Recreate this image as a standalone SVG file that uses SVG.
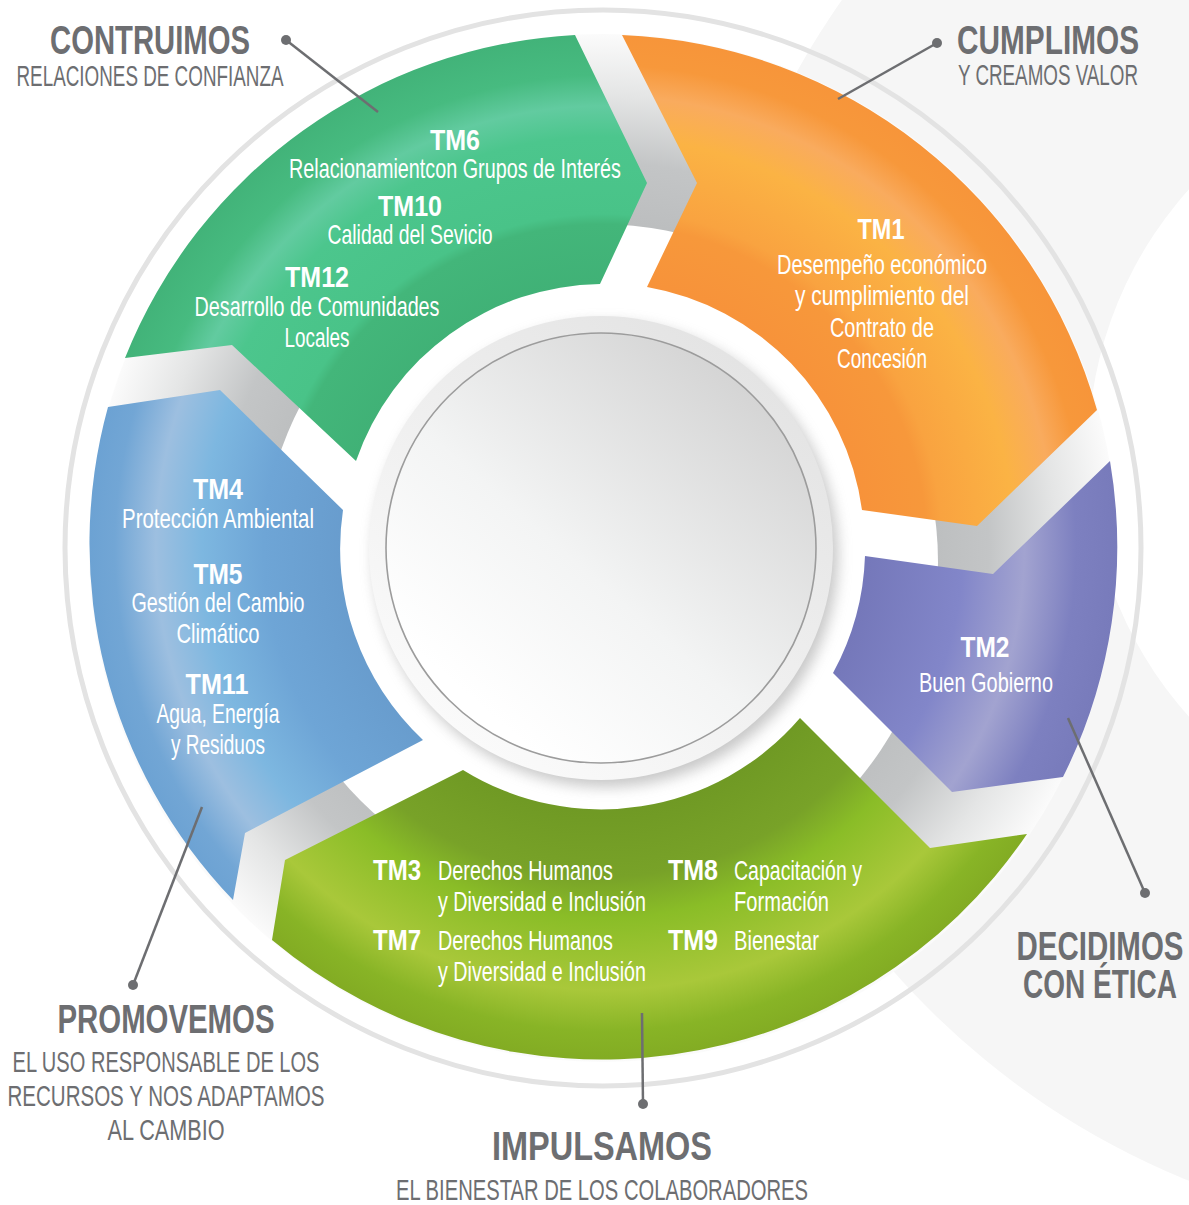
<svg xmlns="http://www.w3.org/2000/svg" width="1189" height="1205" viewBox="0 0 1189 1205">
<style>
text{font-family:"Liberation Sans",Arial,sans-serif}
.hd{font-weight:bold;fill:#6d6e71;font-size:40px;text-anchor:middle}
.sub{fill:#6d6e71;font-size:29px;text-anchor:middle}
.tm{font-weight:bold;fill:#fff;font-size:29px}
.tx{fill:#fff;font-size:28px}
.c{text-anchor:middle}
.lead{stroke:#6d6e71;stroke-width:2.5;fill:none}
.dot{fill:#6d6e71}
</style>
<defs>
<radialGradient id="gUnder" gradientUnits="userSpaceOnUse" cx="603" cy="548" r="514">
<stop offset="0.6" stop-color="#babcbd"/>
<stop offset="0.75" stop-color="#c3c5c6"/>
<stop offset="0.88" stop-color="#e4e5e5"/>
<stop offset="1" stop-color="#fbfbfb"/>
</radialGradient>
<radialGradient id="gGreen" gradientUnits="userSpaceOnUse" cx="603" cy="548" r="514">
<stop offset="0.5" stop-color="#40b176"/>
<stop offset="0.63" stop-color="#43b67a"/>
<stop offset="0.65" stop-color="#49c388"/>
<stop offset="0.8" stop-color="#4cc68d"/>
<stop offset="0.86" stop-color="#62cba0"/>
<stop offset="0.92" stop-color="#47bb80"/>
<stop offset="1" stop-color="#42b379"/>
</radialGradient>
<radialGradient id="gOrange" gradientUnits="userSpaceOnUse" cx="603" cy="548" r="514">
<stop offset="0.5" stop-color="#f7923a"/>
<stop offset="0.63" stop-color="#f7983b"/>
<stop offset="0.66" stop-color="#f9a340"/>
<stop offset="0.8" stop-color="#fbb344"/>
<stop offset="0.88" stop-color="#f9ab5e"/>
<stop offset="0.94" stop-color="#f7983b"/>
<stop offset="1" stop-color="#f7953a"/>
</radialGradient>
<radialGradient id="gPurple" gradientUnits="userSpaceOnUse" cx="603" cy="548" r="514">
<stop offset="0.5" stop-color="#7477b9"/>
<stop offset="0.7" stop-color="#8286c9"/>
<stop offset="0.82" stop-color="#a2a3d0"/>
<stop offset="0.92" stop-color="#7d80c0"/>
<stop offset="1" stop-color="#787bbb"/>
</radialGradient>
<radialGradient id="gLime" gradientUnits="userSpaceOnUse" cx="603" cy="548" r="514">
<stop offset="0.5" stop-color="#6f9924"/>
<stop offset="0.64" stop-color="#78a228"/>
<stop offset="0.72" stop-color="#8abd27"/>
<stop offset="0.86" stop-color="#a9c83a"/>
<stop offset="0.94" stop-color="#88b426"/>
<stop offset="1" stop-color="#82ab23"/>
</radialGradient>
<radialGradient id="gBlue" gradientUnits="userSpaceOnUse" cx="603" cy="548" r="514">
<stop offset="0.5" stop-color="#689ccd"/>
<stop offset="0.66" stop-color="#6ea5d6"/>
<stop offset="0.78" stop-color="#7db7e0"/>
<stop offset="0.87" stop-color="#9dbfe0"/>
<stop offset="0.95" stop-color="#72a6d5"/>
<stop offset="1" stop-color="#6ca2d3"/>
</radialGradient>
<linearGradient id="gRim" x1="0.8" y1="0.1" x2="0.2" y2="0.9">
<stop offset="0" stop-color="#e4e4e4"/>
<stop offset="1" stop-color="#fafafa"/>
</linearGradient>
<linearGradient id="gFace" x1="0.85" y1="0.1" x2="0.2" y2="0.85">
<stop offset="0" stop-color="#d3d3d3"/>
<stop offset="0.6" stop-color="#f3f4f4"/>
<stop offset="1" stop-color="#ffffff"/>
</linearGradient>
<filter id="blur" x="-20%" y="-20%" width="140%" height="140%"><feGaussianBlur stdDeviation="7"/></filter>
</defs>

<rect width="1189" height="1205" fill="#ffffff"/>
<g id="background">
<path d="M1483,453 m-785,0 a785,785 0 1,0 1570,0 a785,785 0 1,0 -1570,0 Z M1483,453 m-395,0 a395,395 0 1,1 790,0 a395,395 0 1,1 -790,0 Z" fill="#f6f6f6" fill-rule="evenodd"/>
<circle cx="603" cy="548" r="538" fill="none" stroke="#e3e3e3" stroke-width="5"/>
<circle cx="603" cy="548" r="514" fill="url(#gUnder)"/>
<circle cx="600" cy="562" r="338" fill="#ffffff"/>
</g>

<g id="node-green">
<path d="M125,358 A514,514 0 0,1 575,35 L647,183 L600,284 A262,262 0 0,0 356,461 L232,345 Z" fill="url(#gGreen)"/>
<text class="tm c" x="455" y="150" textLength="50" lengthAdjust="spacingAndGlyphs">TM6</text>
<text class="tx c" x="455" y="178" textLength="332" lengthAdjust="spacingAndGlyphs">Relacionamientcon Grupos de Interés</text>
<text class="tm c" x="410" y="216" textLength="64" lengthAdjust="spacingAndGlyphs">TM10</text>
<text class="tx c" x="410" y="244" textLength="165" lengthAdjust="spacingAndGlyphs">Calidad del Sevicio</text>
<text class="tm c" x="317" y="287" textLength="64" lengthAdjust="spacingAndGlyphs">TM12</text>
<text class="tx c" x="317" y="316" textLength="245" lengthAdjust="spacingAndGlyphs">Desarrollo de Comunidades</text>
<text class="tx c" x="317" y="347" textLength="65" lengthAdjust="spacingAndGlyphs">Locales</text>
</g>

<g id="node-orange">
<path d="M622,35 A514,514 0 0,1 1097,410 L977,526 L862,510 A262,262 0 0,0 647,287 L697,183 Z" fill="url(#gOrange)"/>
<text class="tm c" x="881" y="239" textLength="47" lengthAdjust="spacingAndGlyphs">TM1</text>
<text class="tx c" x="882" y="274" textLength="210" lengthAdjust="spacingAndGlyphs">Desempeño económico</text>
<text class="tx c" x="882" y="305" textLength="174" lengthAdjust="spacingAndGlyphs">y cumplimiento del</text>
<text class="tx c" x="882" y="337" textLength="104" lengthAdjust="spacingAndGlyphs">Contrato de</text>
<text class="tx c" x="882" y="368" textLength="90" lengthAdjust="spacingAndGlyphs">Concesión</text>
</g>

<g id="node-purple">
<path d="M1110,461 A514,514 0 0,1 1063,777 L952,792 L833,673 A262,262 0 0,0 865,556 L993,574 Z" fill="url(#gPurple)"/>
<text class="tm c" x="985" y="657" textLength="49" lengthAdjust="spacingAndGlyphs">TM2</text>
<text class="tx c" x="986" y="692" textLength="134" lengthAdjust="spacingAndGlyphs">Buen Gobierno</text>
</g>

<g id="node-lime">
<path d="M1027,834 A514,514 0 0,1 272,940 L285,860 L463,770 A262,262 0 0,0 800,718 L930,848 Z" fill="url(#gLime)"/>
<text class="tm" x="373" y="880" textLength="48" lengthAdjust="spacingAndGlyphs">TM3</text>
<text class="tx" x="438" y="880" textLength="175" lengthAdjust="spacingAndGlyphs">Derechos Humanos</text>
<text class="tx" x="438" y="911" textLength="208" lengthAdjust="spacingAndGlyphs">y Diversidad e Inclusión</text>
<text class="tm" x="373" y="950" textLength="48" lengthAdjust="spacingAndGlyphs">TM7</text>
<text class="tx" x="438" y="950" textLength="175" lengthAdjust="spacingAndGlyphs">Derechos Humanos</text>
<text class="tx" x="438" y="981" textLength="208" lengthAdjust="spacingAndGlyphs">y Diversidad e Inclusión</text>
<text class="tm" x="668" y="880" textLength="50" lengthAdjust="spacingAndGlyphs">TM8</text>
<text class="tx" x="734" y="880" textLength="128" lengthAdjust="spacingAndGlyphs">Capacitación y</text>
<text class="tx" x="734" y="911" textLength="95" lengthAdjust="spacingAndGlyphs">Formación</text>
<text class="tm" x="668" y="950" textLength="50" lengthAdjust="spacingAndGlyphs">TM9</text>
<text class="tx" x="734" y="950" textLength="85" lengthAdjust="spacingAndGlyphs">Bienestar</text>
</g>

<g id="node-blue">
<path d="M233,900 A514,514 0 0,1 108,407 L220,390 L343,510 A262,262 0 0,0 423,740 L245,833 Z" fill="url(#gBlue)"/>
<text class="tm c" x="218" y="499" textLength="50" lengthAdjust="spacingAndGlyphs">TM4</text>
<text class="tx c" x="218" y="528" textLength="192" lengthAdjust="spacingAndGlyphs">Protección Ambiental</text>
<text class="tm c" x="218" y="584" textLength="49" lengthAdjust="spacingAndGlyphs">TM5</text>
<text class="tx c" x="218" y="612" textLength="173" lengthAdjust="spacingAndGlyphs">Gestión del Cambio</text>
<text class="tx c" x="218" y="643" textLength="83" lengthAdjust="spacingAndGlyphs">Climático</text>
<text class="tm c" x="217" y="694" textLength="63" lengthAdjust="spacingAndGlyphs">TM11</text>
<text class="tx c" x="218" y="723" textLength="123" lengthAdjust="spacingAndGlyphs">Agua, Energía</text>
<text class="tx c" x="218" y="754" textLength="94" lengthAdjust="spacingAndGlyphs">y Residuos</text>
</g>

<g id="node-center">
<circle cx="606" cy="555" r="232" fill="#9a9a9a" opacity="0.55" filter="url(#blur)"/>
<circle cx="601" cy="548" r="232" fill="url(#gRim)"/>
<circle cx="601" cy="548" r="215" fill="url(#gFace)" stroke="#9c9c9c" stroke-width="1.6"/>
</g>

<g id="connectors">
<line class="lead" x1="286" y1="40" x2="378" y2="112"/>
<circle class="dot" cx="286" cy="40" r="5"/>
<line class="lead" x1="937" y1="43" x2="838" y2="99"/>
<circle class="dot" cx="937" cy="43" r="5"/>
<line class="lead" x1="1068" y1="718" x2="1145" y2="893"/>
<circle class="dot" cx="1145" cy="893" r="5"/>
<line class="lead" x1="642" y1="1013" x2="643" y2="1104"/>
<circle class="dot" cx="643" cy="1104" r="5"/>
<line class="lead" x1="202" y1="807" x2="133" y2="985"/>
<circle class="dot" cx="133" cy="985" r="5"/>
</g>

<g id="label-contruimos">
<text class="hd" x="150" y="54" textLength="200" lengthAdjust="spacingAndGlyphs">CONTRUIMOS</text>
<text class="sub" x="150" y="86" textLength="267" lengthAdjust="spacingAndGlyphs">RELACIONES DE CONFIANZA</text>
</g>
<g id="label-cumplimos">
<text class="hd" x="1048" y="54" textLength="182" lengthAdjust="spacingAndGlyphs">CUMPLIMOS</text>
<text class="sub" x="1048" y="85" textLength="180" lengthAdjust="spacingAndGlyphs">Y CREAMOS VALOR</text>
</g>
<g id="label-decidimos">
<text class="hd" x="1100" y="960" textLength="167" lengthAdjust="spacingAndGlyphs">DECIDIMOS</text>
<text class="hd" x="1100" y="998" textLength="154" lengthAdjust="spacingAndGlyphs">CON ÉTICA</text>
</g>
<g id="label-promovemos">
<text class="hd" x="166" y="1033" textLength="217" lengthAdjust="spacingAndGlyphs">PROMOVEMOS</text>
<text class="sub" x="166" y="1072" textLength="307" lengthAdjust="spacingAndGlyphs">EL USO RESPONSABLE DE LOS</text>
<text class="sub" x="166" y="1106" textLength="317" lengthAdjust="spacingAndGlyphs">RECURSOS Y NOS ADAPTAMOS</text>
<text class="sub" x="166" y="1140" textLength="117" lengthAdjust="spacingAndGlyphs">AL CAMBIO</text>
</g>
<g id="label-impulsamos">
<text class="hd" x="602" y="1160" textLength="220" lengthAdjust="spacingAndGlyphs">IMPULSAMOS</text>
<text class="sub" x="602" y="1200" textLength="412" lengthAdjust="spacingAndGlyphs">EL BIENESTAR DE LOS COLABORADORES</text>
</g>
</svg>
